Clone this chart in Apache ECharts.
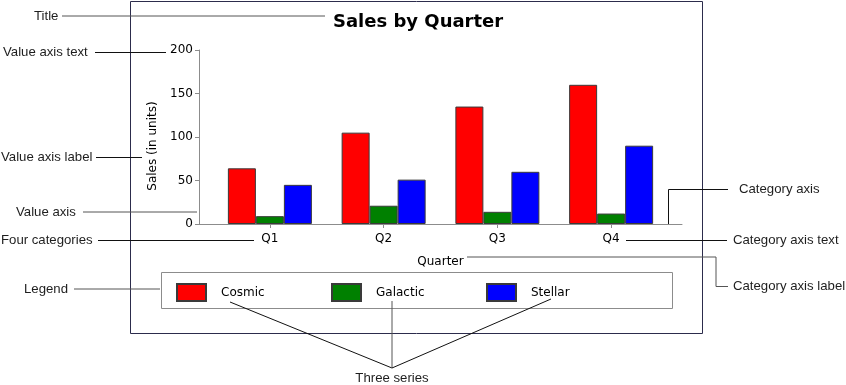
<!DOCTYPE html>
<html>
<head>
<meta charset="utf-8">
<script src="https://cdn.jsdelivr.net/npm/echarts@6/dist/echarts.min.js"></script>
<style>
html,body{margin:0;padding:0;background:#fff;}
#c{width:846px;height:385px;}
</style>
</head>
<body>
<div id="c"></div>
<script>
const categories = ['Q1', 'Q2', 'Q3', 'Q4'];
const seriesNames = ['Cosmic', 'Galactic', 'Stellar'];
const cosmic = [64, 105, 135, 160];
const galactic = [9, 21, 14, 12];
const stellar = [45, 51, 60, 90];
const colors = ['#ff0000', '#008000', '#0000ff'];
const titleText = 'Sales by Quarter';
const yName = 'Sales (in units)';
const xName = 'Quarter';

const chart = echarts.init(document.getElementById('c'), null, {renderer: 'canvas'});
const F = 'DejaVu Sans, Verdana, sans-serif';
const AF = 'Liberation Sans, Arial, sans-serif';
const axisGray = '#8c8c8c';

function txt(x, y, s, align) {
  return {type: 'text', silent: true, x: x, y: y,
    style: {text: s, fill: '#1e1e1e', font: '13.2px ' + AF, align: align || 'left', verticalAlign: 'middle'}};
}
function ln(pts, color) {
  return {type: 'polyline', silent: true,
    shape: {points: pts}, style: {stroke: color || '#111', lineWidth: 1, fill: null}};
}

const graphics = [
  {type: 'rect', silent: true, shape: {x: 130.5, y: 1.5, width: 572, height: 332},
   style: {fill: null, stroke: '#2c2c4c', lineWidth: 1}, z: -1},
  {type: 'rect', silent: true, shape: {x: 161.5, y: 272.5, width: 511, height: 36},
   style: {fill: null, stroke: '#8c8c8c', lineWidth: 1}, z: -1},
  txt(34, 16, 'Title'), ln([[62, 16], [325, 16]], '#555'),
  txt(3, 52, 'Value axis text'), ln([[95, 52.5], [166, 52.5]]),
  txt(1, 157, 'Value axis label'), ln([[96, 157.5], [142, 157.5]]),
  txt(16, 212, 'Value axis'), ln([[83, 212], [197, 212]], '#555'),
  txt(1, 240, 'Four categories'), ln([[98, 240.5], [254, 240.5]]),
  txt(24, 289, 'Legend'), ln([[74, 289], [160, 289]], '#555'),
  txt(392, 378, 'Three series', 'center'),
  ln([[230, 302], [392, 368]]), ln([[392, 301], [392, 368]], '#555'), ln([[551, 299], [392, 368]]),
  txt(739, 189, 'Category axis'), ln([[728, 189.5], [668.5, 189.5], [668.5, 224]]),
  txt(733, 240, 'Category axis text'), ln([[626, 240.5], [727, 240.5]]),
  txt(733, 286, 'Category axis label'), ln([[467, 257], [716, 257], [716, 286.5], [728, 286.5]], '#555')
];

const series = [cosmic, galactic, stellar].map((d, i) => ({
  name: seriesNames[i], type: 'bar', data: d, xAxisIndex: 0, yAxisIndex: 0,
  barWidth: 28, barGap: '0%',
  itemStyle: {color: colors[i], borderColor: '#3a3a3a', borderWidth: 1},
  emphasis: {disabled: true}
}));

const legendLefts = [176, 331, 486];
const legends = seriesNames.map((n, i) => ({
  data: [n], left: legendLefts[i], top: 283, padding: 0,
  icon: 'rect', itemWidth: 29, itemHeight: 17,
  selectedMode: false,
  textStyle: {fontFamily: F, fontSize: 12, color: '#000', padding: [0, 0, 0, 10]}
}));

chart.setOption({
  animation: false,
  backgroundColor: '#fff',
  title: {text: titleText, left: 328, top: 8,
    textStyle: {fontFamily: F, fontWeight: 'bold', fontSize: 18, color: '#000'}},
  legend: legends,
  grid: [
    {left: 213, right: 178, top: 50, bottom: 161},
    {left: 199, right: 164, top: 50, bottom: 161}
  ],
  xAxis: [
    {type: 'category', gridIndex: 0, data: categories,
     axisLine: {show: false}, axisTick: {show: true, alignWithLabel: true, length: 4, lineStyle: {color: axisGray}},
     axisLabel: {fontFamily: F, fontSize: 12, color: '#000', margin: 9},
     name: xName, nameLocation: 'middle', nameGap: 32,
     nameTextStyle: {fontFamily: F, fontSize: 12, color: '#000'}},
    {type: 'value', gridIndex: 1, min: 0, max: 1,
     axisLine: {show: true, lineStyle: {color: axisGray}}, axisTick: {show: false},
     axisLabel: {show: false}, splitLine: {show: false}}
  ],
  yAxis: [
    {type: 'value', gridIndex: 0, min: 0, max: 200, interval: 50, offset: 14,
     axisLine: {show: true, lineStyle: {color: axisGray}},
     axisTick: {show: true, length: 4, lineStyle: {color: axisGray}},
     axisLabel: {fontFamily: F, fontSize: 12, color: '#000', margin: 6},
     splitLine: {show: false},
     name: yName, nameLocation: 'middle', nameGap: 40, nameRotate: 90,
     nameTextStyle: {fontFamily: F, fontSize: 12, color: '#000', padding: [0, 18, 0, 0]}},
    {type: 'value', gridIndex: 1, show: false}
  ],
  series: series,
  graphic: graphics
});
</script>
</body>
</html>
